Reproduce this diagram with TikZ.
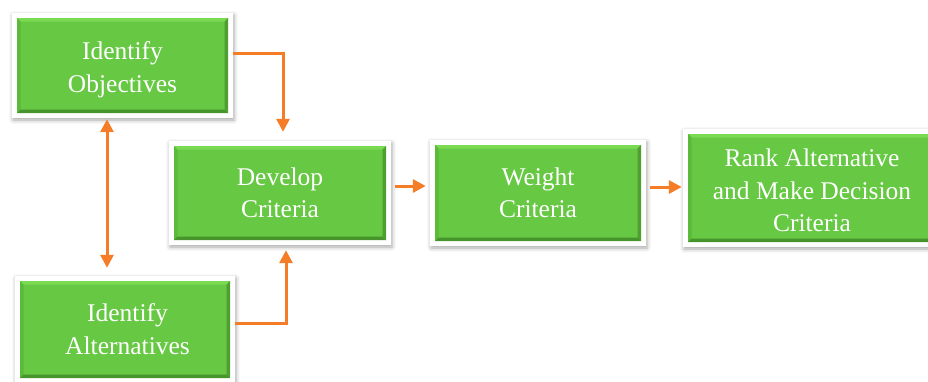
\documentclass[tikz,border=0pt]{standalone}
\usepackage{fontspec}
\setmainfont{Liberation Serif}
\usetikzlibrary{arrows.meta,shadows.blur,calc}

\definecolor{boxgreen}{RGB}{102,200,67}
\definecolor{bevellight}{RGB}{122,218,82}
\definecolor{bevelside}{RGB}{92,186,58}
\definecolor{beveldark}{RGB}{72,148,44}
\definecolor{floworange}{RGB}{245,125,40}

\tikzset{
  % white mat with a soft shadow, green bevelled panel inside
  panel/.style={
    draw=none, fill=white, inner sep=0pt,
    blur shadow={shadow xshift=1pt, shadow yshift=-2pt,
                 shadow blur radius=4pt, shadow opacity=35},
    path picture={
      \coordinate (pa) at ([shift={(5pt,5pt)}]path picture bounding box.south west);
      \coordinate (pb) at ([shift={(-5pt,-5pt)}]path picture bounding box.north east);
      \coordinate (qa) at ([shift={(3.5pt,3.5pt)}]pa);
      \coordinate (qb) at ([shift={(-3.5pt,-3.5pt)}]pb);
      \fill[boxgreen] (pa) rectangle (pb);
      % top edge
      \fill[bevellight] (pa |- pb) -- (pb) -- (qb) -- (qa |- qb) -- cycle;
      % left edge
      \fill[bevelside] (pa) -- (pa |- pb) -- (qa |- qb) -- (qa) -- cycle;
      % right edge
      \fill[bevelside!85!black] (pa -| pb) -- (pb) -- (qb) -- (qb |- qa) -- cycle;
      % bottom edge
      \fill[beveldark] (pa) -- (pa -| pb) -- (qb |- qa) -- (qa) -- cycle;
    }
  },
  paneltext/.style={inner sep=0pt, text=white, align=center,
    font=\fontsize{25.5}{32.5}\selectfont},
  flow/.style={draw=floworange, line width=3pt, -{Triangle[length=13pt,width=13pt]}},
  bothflow/.style={draw=floworange, line width=3pt,
    {Triangle[length=13pt,width=13pt]}-{Triangle[length=13pt,width=13pt]}}
}

\begin{document}
\begin{tikzpicture}[x=1pt,y=-1pt]
  \useasboundingbox (0,0) rectangle (928,381);

  % panels
  \node[panel, minimum width=221pt, minimum height=105pt] (obj) at (122.5,65.5) {};
  \node[panel, minimum width=222pt, minimum height=104pt] (dev) at (280,193) {};
  \node[panel, minimum width=216pt, minimum height=106pt] (wt) at (538,193) {};
  \node[panel, minimum width=254pt, minimum height=118pt] (rank) at (810,188) {};
  \node[panel, minimum width=220pt, minimum height=107pt] (alt) at (125,329.5) {};

  % captions
  \node[paneltext] (objtext) at ([yshift=-4pt]obj.center) {\strut Identify\\Objectives\strut};
  \node[paneltext] (devtext) at ([yshift=-2pt]dev.center) {\strut Develop\\Criteria\strut};
  \node[paneltext] (wttext) at ([yshift=-2pt]wt.center) {\strut Weight\\Criteria\strut};
  \node[paneltext] (ranktext) at ([xshift=2pt,yshift=-4.8pt]rank.center)
    {\strut Rank Alternative\\and Make Decision\\Criteria\strut};
  \node[paneltext] (alttext) at ([xshift=2.5pt,yshift=-2pt]alt.center) {\strut Identify\\Alternatives\strut};

  % connectors
  \draw[flow] ([yshift=12.5pt]obj.east) -| ([xshift=3pt,yshift=9pt]dev.north);
  \draw[flow] ([yshift=6.5pt]alt.east) -| ([xshift=6pt,yshift=-5pt]dev.south);
  \draw[bothflow] ([xshift=-15.5pt,yshift=-1pt]obj.south) -- ([xshift=-18pt,yshift=8pt]alt.north);
  \draw[flow] ([xshift=4pt,yshift=7pt]dev.east) -- ([xshift=-4pt,yshift=7pt]wt.west);
  \draw[flow] ([xshift=4pt,yshift=6pt]wt.east) -- ([xshift=-1pt,yshift=1pt]rank.west);
\end{tikzpicture}
\end{document}
